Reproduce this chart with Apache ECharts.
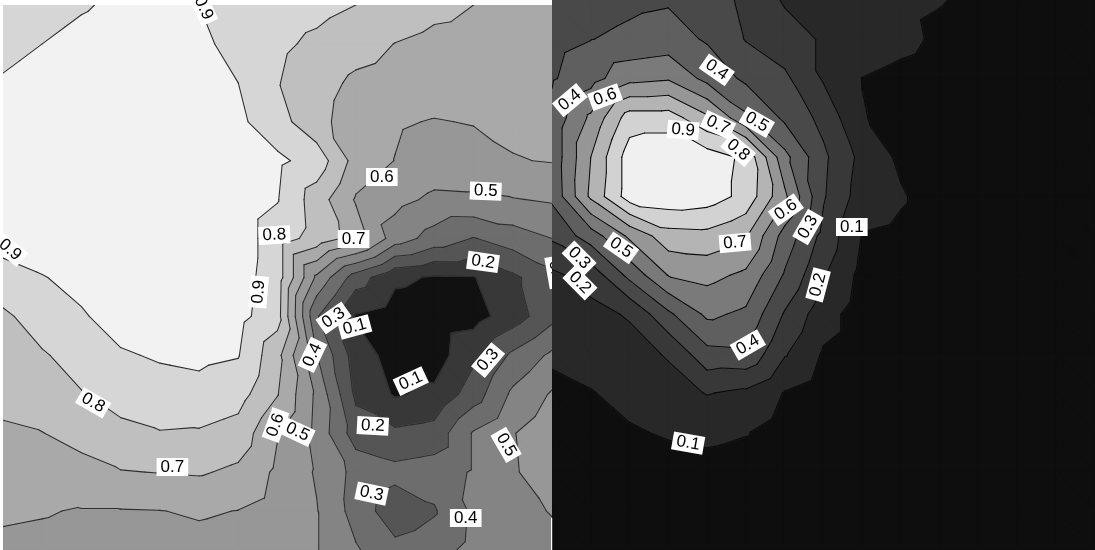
<!DOCTYPE html>
<html>
<head>
<meta charset="utf-8">
<script src="https://cdn.jsdelivr.net/npm/echarts@6/dist/echarts.min.js"></script>
<style>
  html, body { margin: 0; padding: 0; background: #ffffff; }
  #chart { width: 1095px; height: 550px; }
</style>
</head>
<body>
<div id="chart"></div>
<script>
// Contour levels shared by both maps
const levels = [0.1, 0.2, 0.3, 0.4, 0.5, 0.6, 0.7, 0.8, 0.9];

// Fill colour of each band, from below 0.1 up to above 0.9
const leftBandColors = ['#111111', '#383838', '#555555', '#6d6d6d', '#848484',
                        '#979797', '#a9a9a9', '#bfbfbf', '#d6d6d6', '#f2f2f2'];
const rightBandColors = ['#0e0e0e', '#282828', '#383838', '#494949', '#5f5f5f',
                         '#7a7a7a', '#969696', '#b4b4b4', '#d2d2d2', '#f0f0f0'];

// Gridded field values, 15 columns x 15 rows, row 0 at the top
const leftValues = [
  [0.84, 0.86, 0.89, 0.92, 0.93, 0.90, 0.86, 0.85, 0.83, 0.80, 0.77, 0.73, 0.70, 0.67, 0.66],
  [0.87, 0.90, 0.93, 0.95, 0.95, 0.92, 0.87, 0.82, 0.78, 0.74, 0.698, 0.67, 0.66, 0.65, 0.65],
  [0.91, 0.94, 0.96, 0.97, 0.97, 0.95, 0.90, 0.805, 0.74, 0.68, 0.66, 0.65, 0.65, 0.64, 0.64],
  [0.94, 0.96, 0.97, 0.98, 0.98, 0.96, 0.92, 0.84, 0.73, 0.65, 0.61, 0.595, 0.605, 0.62, 0.63],
  [0.95, 0.97, 0.98, 0.98, 0.98, 0.97, 0.96, 0.92, 0.86, 0.66, 0.598, 0.56, 0.56, 0.595, 0.605],
  [0.96, 0.97, 0.98, 0.98, 0.97, 0.96, 0.95, 0.905, 0.75, 0.59, 0.53, 0.48, 0.485, 0.495, 0.51],
  [0.93, 0.96, 0.97, 0.98, 0.97, 0.96, 0.95, 0.85, 0.76, 0.66, 0.45, 0.36, 0.295, 0.35, 0.40],
  [0.87, 0.895, 0.93, 0.96, 0.97, 0.96, 0.94, 0.85, 0.48, 0.25, 0.12, 0.09, 0.095, 0.18, 0.27],
  [0.78, 0.85, 0.89, 0.94, 0.97, 0.96, 0.93, 0.84, 0.31, 0.09, 0.05, 0.04, 0.06, 0.15, 0.27],
  [0.75, 0.79, 0.84, 0.89, 0.91, 0.92, 0.905, 0.73, 0.405, 0.15, 0.06, 0.05, 0.18, 0.32, 0.42],
  [0.72, 0.75, 0.795, 0.83, 0.86, 0.87, 0.84, 0.705, 0.48, 0.18, 0.09, 0.12, 0.25, 0.42, 0.51],
  [0.69, 0.698, 0.73, 0.78, 0.795, 0.79, 0.76, 0.605, 0.47, 0.25, 0.22, 0.24, 0.41, 0.495, 0.56],
  [0.63, 0.65, 0.67, 0.695, 0.703, 0.71, 0.68, 0.58, 0.49, 0.37, 0.33, 0.35, 0.41, 0.49, 0.55],
  [0.61, 0.605, 0.595, 0.595, 0.598, 0.61, 0.598, 0.56, 0.505, 0.36, 0.24, 0.29, 0.42, 0.47, 0.505],
  [0.585, 0.58, 0.575, 0.57, 0.57, 0.57, 0.56, 0.54, 0.505, 0.41, 0.33, 0.36, 0.43, 0.46, 0.47]
];

const rightValues = [
  [0.35, 0.36, 0.38, 0.39, 0.37, 0.27, 0.19, 0.16, 0.14, 0.12, 0.105, 0.08, 0.06, 0.05, 0.05],
  [0.37, 0.398, 0.42, 0.44, 0.39, 0.295, 0.24, 0.19, 0.16, 0.13, 0.08, 0.06, 0.05, 0.05, 0.05],
  [0.39, 0.46, 0.57, 0.59, 0.47, 0.38, 0.32, 0.19, 0.098, 0.07, 0.05, 0.05, 0.05, 0.05, 0.05],
  [0.43, 0.62, 0.85, 0.85, 0.72, 0.52, 0.38, 0.27, 0.105, 0.07, 0.05, 0.05, 0.05, 0.05, 0.05],
  [0.43, 0.70, 0.95, 0.98, 0.95, 0.88, 0.53, 0.32, 0.17, 0.08, 0.05, 0.05, 0.05, 0.05, 0.05],
  [0.42, 0.72, 0.95, 0.97, 0.95, 0.87, 0.62, 0.31, 0.15, 0.11, 0.05, 0.05, 0.05, 0.05, 0.05],
  [0.32, 0.45, 0.62, 0.76, 0.77, 0.71, 0.46, 0.27, 0.095, 0.08, 0.05, 0.05, 0.05, 0.05, 0.05],
  [0.18, 0.24, 0.43, 0.605, 0.63, 0.58, 0.39, 0.21, 0.07, 0.05, 0.05, 0.05, 0.05, 0.05, 0.05],
  [0.15, 0.17, 0.21, 0.38, 0.52, 0.48, 0.29, 0.14, 0.05, 0.05, 0.05, 0.05, 0.05, 0.05, 0.05],
  [0.12, 0.14, 0.16, 0.21, 0.37, 0.38, 0.21, 0.09, 0.05, 0.05, 0.05, 0.05, 0.05, 0.05, 0.05],
  [0.07, 0.095, 0.13, 0.16, 0.205, 0.18, 0.095, 0.05, 0.05, 0.05, 0.05, 0.05, 0.05, 0.05, 0.05],
  [0.05, 0.06, 0.09, 0.11, 0.12, 0.105, 0.06, 0.04, 0.04, 0.04, 0.04, 0.04, 0.04, 0.04, 0.04],
  [0.04, 0.04, 0.05, 0.06, 0.07, 0.06, 0.05, 0.04, 0.04, 0.04, 0.04, 0.04, 0.04, 0.04, 0.04],
  [0.04, 0.04, 0.04, 0.04, 0.04, 0.04, 0.04, 0.04, 0.04, 0.04, 0.04, 0.04, 0.04, 0.04, 0.04],
  [0.04, 0.04, 0.04, 0.04, 0.04, 0.04, 0.04, 0.04, 0.04, 0.04, 0.04, 0.04, 0.04, 0.04, 0.04]
];

// Contour labels: text, column, row, tilt in degrees (clockwise)
const leftLabels = [
  ['0.9', 5.11, 0.08, 65], ['0.9', 0.18, 6.29, 40], ['0.8', 6.92, 5.91, -3],
  ['0.9', 6.52, 7.37, -85], ['0.6', 9.66, 4.42, 0], ['0.5', 12.31, 4.78, 2],
  ['0.7', 8.94, 6.01, 0], ['0.2', 12.24, 6.60, 8], ['0.3', 14.10, 6.86, 80],
  ['0.3', 8.43, 8.04, -35], ['0.1', 8.97, 8.27, -15], ['0.4', 7.89, 8.99, -65],
  ['0.1', 10.40, 9.66, -25], ['0.3', 12.37, 9.12, -50], ['0.8', 2.30, 10.22, 30],
  ['0.6', 6.95, 10.79, -70], ['0.5', 7.51, 10.97, 25], ['0.2', 9.43, 10.81, 3],
  ['0.7', 4.32, 11.87, 0], ['0.3', 9.40, 12.55, 12], ['0.5', 12.83, 11.30, 60],
  ['0.4', 11.80, 13.18, 0]
];
const rightLabels = [
  ['0.4', 4.25, 1.78, 35], ['0.4', 0.46, 2.55, -40], ['0.6', 1.37, 2.47, -20],
  ['0.7', 4.28, 3.18, 25], ['0.5', 5.28, 3.11, 30], ['0.9', 3.38, 3.31, 5],
  ['0.8', 4.80, 3.82, 40], ['0.6', 6.03, 5.34, -35], ['0.3', 6.60, 5.78, -60],
  ['0.1', 7.73, 5.78, 0], ['0.5', 1.78, 6.31, 35], ['0.7', 4.72, 6.18, -5],
  ['0.3', 0.70, 6.57, 45], ['0.2', 0.72, 7.20, 45], ['0.2', 6.86, 7.25, -75],
  ['0.4', 5.05, 8.78, -30], ['0.1', 3.51, 11.28, 10]
];

// One data item per grid cell
function cells(values) {
  const out = [];
  for (let j = 0; j < values.length - 1; j++) {
    for (let i = 0; i < values[0].length - 1; i++) out.push([i, j]);
  }
  return out;
}

// Each cell is split into two triangles with linear interpolation inside
function triangles(values, i, j) {
  const p = (a, b) => [a, b, values[b][a]];
  return [[p(i, j), p(i + 1, j), p(i + 1, j + 1)],
          [p(i, j), p(i + 1, j + 1), p(i, j + 1)]];
}

// Keep the part of a polygon above (or below) a level
function clip(poly, t, above) {
  const out = [];
  for (let k = 0; k < poly.length; k++) {
    const a = poly[k], b = poly[(k + 1) % poly.length];
    const ina = above ? a[2] >= t : a[2] <= t;
    const inb = above ? b[2] >= t : b[2] <= t;
    if (ina) out.push(a);
    if (ina !== inb) {
      const f = (t - a[2]) / (b[2] - a[2]);
      out.push([a[0] + f * (b[0] - a[0]), a[1] + f * (b[1] - a[1]), t]);
    }
  }
  return out;
}

function fillRenderer(values, colors) {
  return function (params, api) {
    const i = api.value(0), j = api.value(1);
    const children = [];
    for (const tri of triangles(values, i, j)) {
      for (let k = 0; k <= levels.length; k++) {
        let poly = tri;
        if (k > 0) poly = clip(poly, levels[k - 1], true);
        if (poly.length >= 3 && k < levels.length) poly = clip(poly, levels[k], false);
        if (poly.length < 3) continue;
        const pts = poly.map(p => api.coord([p[0], p[1]]));
        children.push({
          type: 'polygon', silent: true,
          shape: { points: pts },
          style: { fill: colors[k], stroke: colors[k], lineWidth: 1.5, lineJoin: 'round' }
        });
      }
    }
    return { type: 'group', children };
  };
}

function lineRenderer(values, color, width) {
  return function (params, api) {
    const i = api.value(0), j = api.value(1);
    const children = [];
    for (const tri of triangles(values, i, j)) {
      for (const t of levels) {
        const pts = [];
        for (let e = 0; e < 3; e++) {
          const a = tri[e], b = tri[(e + 1) % 3];
          if ((a[2] < t) !== (b[2] < t)) {
            const f = (t - a[2]) / (b[2] - a[2]);
            pts.push(api.coord([a[0] + f * (b[0] - a[0]), a[1] + f * (b[1] - a[1])]));
          }
        }
        if (pts.length === 2) {
          children.push({
            type: 'line', silent: true,
            shape: { x1: pts[0][0], y1: pts[0][1], x2: pts[1][0], y2: pts[1][1] },
            style: { stroke: color, lineWidth: width, lineCap: 'round' }
          });
        }
      }
    }
    return { type: 'group', children };
  };
}

function labelRenderer(list) {
  return function (params, api) {
    const L = list[params.dataIndex];
    const c = api.coord([api.value(0), api.value(1)]);
    return {
      type: 'text', silent: true,
      x: c[0], y: c[1],
      rotation: -L[3] * Math.PI / 180,
      style: {
        text: L[0], x: 0, y: 0,
        align: 'center', verticalAlign: 'middle',
        font: '17px "Liberation Sans", Arial, sans-serif',
        fill: '#000000',
        backgroundColor: '#ffffff',
        padding: [1, 4, 0, 4]
      }
    };
  };
}

const axisBase = { type: 'value', min: 0, max: 14, show: false };

const chart = echarts.init(document.getElementById('chart'));
chart.setOption({
  animation: false,
  backgroundColor: '#ffffff',
  grid: [
    { left: 3, top: 5, width: 549, height: 545 },
    { left: 552, top: 0, width: 543, height: 550 }
  ],
  xAxis: [
    Object.assign({ gridIndex: 0 }, axisBase),
    Object.assign({ gridIndex: 1 }, axisBase)
  ],
  yAxis: [
    Object.assign({ gridIndex: 0, inverse: true }, axisBase),
    Object.assign({ gridIndex: 1, inverse: true }, axisBase)
  ],
  graphic: [
    // thin white gap at the foot of the seam between the two maps
    { type: 'rect', z: 100, shape: { x: 551, y: 518, width: 1.2, height: 32 },
      style: { fill: '#ffffff' }, silent: true }
  ],
  series: [
    { type: 'custom', xAxisIndex: 0, yAxisIndex: 0, z: 1, clip: true,
      data: cells(leftValues), renderItem: fillRenderer(leftValues, leftBandColors) },
    { type: 'custom', xAxisIndex: 0, yAxisIndex: 0, z: 2, clip: true,
      data: cells(leftValues), renderItem: lineRenderer(leftValues, '#2e2e2e', 1.1) },
    { type: 'custom', xAxisIndex: 0, yAxisIndex: 0, z: 3,
      data: leftLabels.map(l => [l[1], l[2]]), renderItem: labelRenderer(leftLabels) },
    { type: 'custom', xAxisIndex: 1, yAxisIndex: 1, z: 4, clip: true,
      data: cells(rightValues), renderItem: fillRenderer(rightValues, rightBandColors) },
    { type: 'custom', xAxisIndex: 1, yAxisIndex: 1, z: 5, clip: true,
      data: cells(rightValues), renderItem: lineRenderer(rightValues, '#0a0a0a', 1.1) },
    { type: 'custom', xAxisIndex: 1, yAxisIndex: 1, z: 6,
      data: rightLabels.map(l => [l[1], l[2]]), renderItem: labelRenderer(rightLabels) }
  ]
});
</script>
</body>
</html>
